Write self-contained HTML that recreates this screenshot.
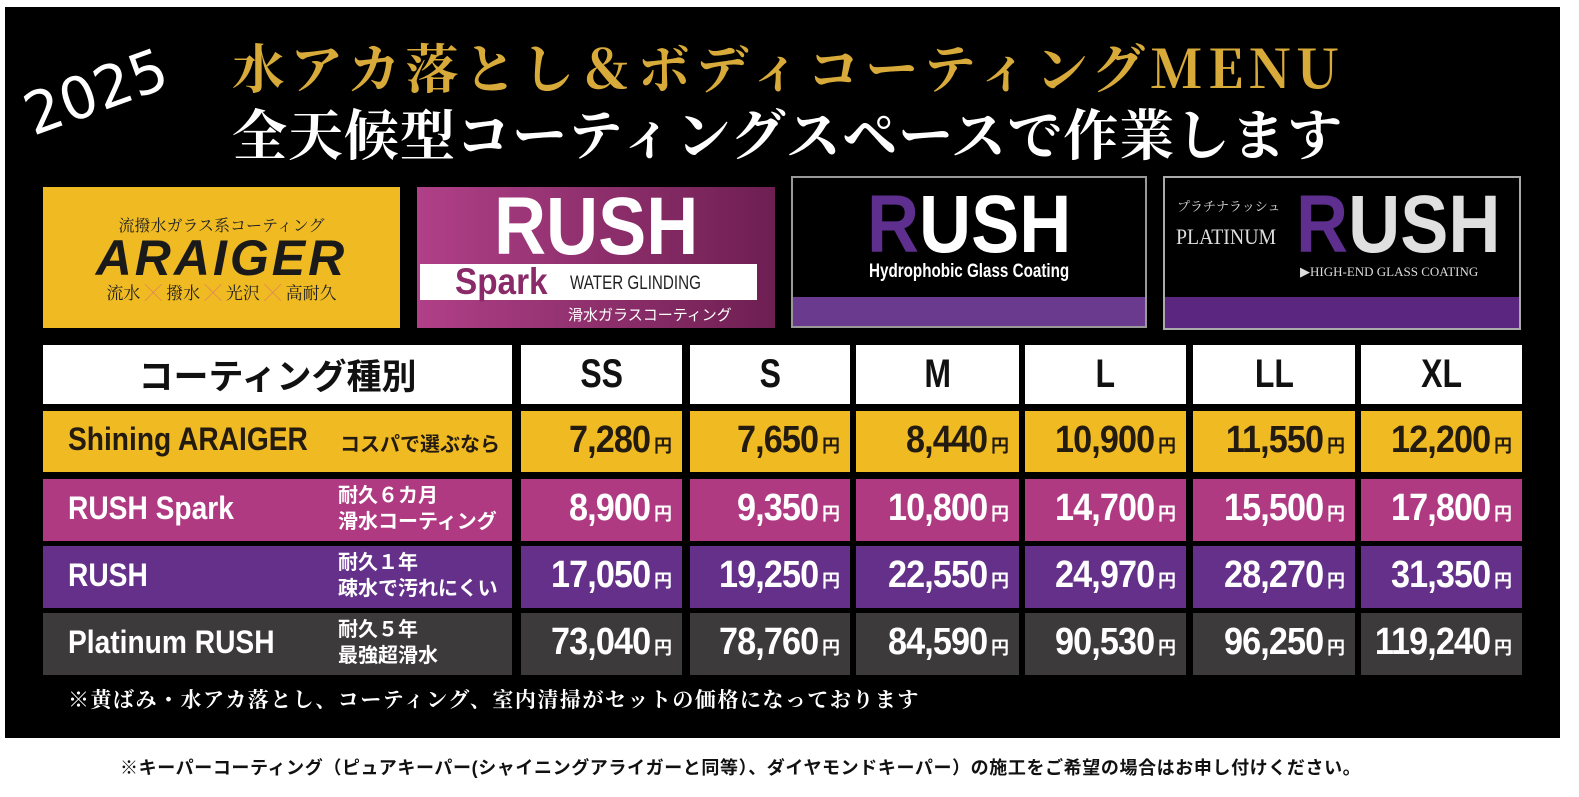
<!DOCTYPE html>
<html style="overflow:hidden"><head><meta charset="utf-8"><style>
*{margin:0;padding:0;box-sizing:border-box}
html,body{overflow:hidden}
body{width:1579px;height:797px;background:#fff;position:relative;font-family:"Liberation Sans","Noto Sans CJK JP",sans-serif}
.bk{position:absolute;left:5px;top:7px;width:1555px;height:731px;background:#000}
.a{position:absolute}
.c{position:absolute;display:flex;align-items:center;justify-content:center}
.cond{display:inline-block;transform:scaleX(.8);font-weight:bold}
.yen{font-size:18px;font-weight:bold;margin-left:4px}
.pr{position:absolute;display:flex;align-items:baseline;justify-content:flex-end;padding-right:10px}
.pr b{font-size:38px;letter-spacing:-1px;display:inline-block;transform:scaleX(.9);transform-origin:right}
</style></head><body>
<div class="bk"></div>
<div class="a" style="left:22px;top:58px;color:#fff;font-size:58px;transform:rotate(-20deg);font-family:'DejaVu Sans',sans-serif">2025</div>
<div class="a" style="left:232px;top:28px;font-family:'Noto Serif CJK SC','Liberation Serif',serif;font-size:53px;font-weight:bold;color:#d8aa3a;white-space:nowrap;letter-spacing:5px">水アカ落とし＆ボディコーティングMENU</div>
<div class="a" style="left:232px;top:92px;font-family:'Noto Serif CJK SC','Liberation Serif',serif;font-size:55px;font-weight:bold;color:#fff;white-space:nowrap;letter-spacing:1px">全天候型コーティングスペースで作業します</div>

<div class="a" style="left:43px;top:187px;width:357px;height:141px;background:#f0bb22"></div>
<div class="a" style="left:43px;top:213px;width:357px;text-align:center;font-family:'Noto Serif CJK SC',serif;font-size:16px;color:#222">流撥水ガラス系コーティング</div>
<div class="a" style="left:43px;top:229px;width:357px;text-align:center;font-size:50px;font-weight:bold;font-style:italic;color:#1a1a1a;letter-spacing:3px">ARAIGER</div>
<div class="a" style="left:43px;top:279px;width:357px;text-align:center;font-family:'Noto Serif CJK SC',serif;font-size:17px;color:#222">流水 <span style="color:#e08060">╳</span> 撥水 <span style="color:#e08060">╳</span> 光沢 <span style="color:#e08060">╳</span> 高耐久</div>

<div class="a" style="left:417px;top:187px;width:358px;height:141px;background:linear-gradient(90deg,#b04088,#6e1f52)"></div>
<div class="a" style="left:417px;top:180px;width:358px;text-align:center;color:#fff;font-size:82px"><span class="cond" style="transform:scaleX(.88)">RUSH</span></div>
<div class="a" style="left:420px;top:264px;width:337px;height:36px;background:#fff"></div>
<div class="a" style="left:455px;top:261px;color:#8a2a68;font-size:37px"><span class="cond" style="transform-origin:left;transform:scaleX(.9)">Spark</span></div>
<div class="a" style="left:570px;top:273px;color:#222;font-size:19px"><span class="cond" style="font-weight:normal;transform-origin:left">WATER GLINDING</span></div>
<div class="a" style="left:568px;top:304px;color:#fff;font-size:15px">滑水ガラスコーティング</div>

<div class="a" style="left:791px;top:176px;width:356px;height:152px;background:#000;border:2px solid #999"></div>
<div class="a" style="left:793px;top:297px;width:352px;height:29px;background:#6a3a8e"></div>
<div class="a" style="left:793px;top:178px;width:352px;text-align:center;font-size:82px;color:#fff"><span class="cond" style="transform:scaleX(.88)"><span style="color:#5e2f8e">R</span>USH</span></div>
<div class="a" style="left:793px;top:261px;width:352px;text-align:center;font-size:19px;color:#fff"><span class="cond">Hydrophobic Glass Coating</span></div>

<div class="a" style="left:1163px;top:176px;width:358px;height:154px;background:#000;border:2px solid #aaa"></div>
<div class="a" style="left:1165px;top:297px;width:354px;height:31px;background:#5a2680"></div>
<div class="a" style="left:1177px;top:196px;font-family:'Noto Serif CJK SC',serif;font-size:13px;color:#ddd">プラチナラッシュ</div>
<div class="a" style="left:1176px;top:224px;font-family:'Liberation Serif',serif;font-size:22px;color:#ddd;transform:scaleX(.9);transform-origin:left">PLATINUM</div>
<div class="a" style="left:1296px;top:178px;font-size:82px;color:#ddd"><span class="cond" style="transform:scaleX(.88);transform-origin:left"><span style="color:#5e2f8e">R</span><span style="color:#e0e0e0">USH</span></span></div>
<div class="a" style="left:1300px;top:264px;font-family:'Liberation Serif',serif;font-size:13px;color:#ddd">▶HIGH-END GLASS COATING</div>

<div class="c" style="left:43px;top:345px;width:469px;height:59px;background:#fff;font-size:35px;font-weight:bold;color:#111">コーティング種別</div>
<div class="c" style="left:521px;top:345px;width:161px;height:59px;background:#fff;font-size:40px;color:#111"><span class="cond">SS</span></div>
<div class="c" style="left:690px;top:345px;width:160px;height:59px;background:#fff;font-size:40px;color:#111"><span class="cond">S</span></div>
<div class="c" style="left:856px;top:345px;width:163px;height:59px;background:#fff;font-size:40px;color:#111"><span class="cond">M</span></div>
<div class="c" style="left:1025px;top:345px;width:161px;height:59px;background:#fff;font-size:40px;color:#111"><span class="cond">L</span></div>
<div class="c" style="left:1193px;top:345px;width:162px;height:59px;background:#fff;font-size:40px;color:#111"><span class="cond">LL</span></div>
<div class="c" style="left:1361px;top:345px;width:161px;height:59px;background:#fff;font-size:40px;color:#111"><span class="cond">XL</span></div>

<div id="rows"></div>
<div class="a" style="left:43px;top:411px;width:469px;height:61px;background:#f0bb22"></div>
<div class="a" style="left:68px;top:421px;font-size:32px;color:#231a10"><span class="cond" style="transform-origin:left;transform:scaleX(.88)">Shining ARAIGER</span></div>
<div class="a" style="left:340px;top:428px;font-size:20px;font-weight:bold;color:#231a10">コスパで選ぶなら</div>

<div class="a" style="left:43px;top:479px;width:469px;height:62px;background:#b03a82"></div>
<div class="a" style="left:68px;top:490px;font-size:32px;color:#fff"><span class="cond" style="transform-origin:left;transform:scaleX(.88)">RUSH Spark</span></div>
<div class="a" style="left:338px;top:483px;font-size:20px;font-weight:bold;color:#fff;line-height:26px">耐久６カ月<br>滑水コーティング</div>

<div class="a" style="left:43px;top:546px;width:469px;height:62px;background:#64308a"></div>
<div class="a" style="left:68px;top:557px;font-size:32px;color:#fff"><span class="cond" style="transform-origin:left;transform:scaleX(.88)">RUSH</span></div>
<div class="a" style="left:338px;top:550px;font-size:20px;font-weight:bold;color:#fff;line-height:26px">耐久１年<br>疎水で汚れにくい</div>

<div class="a" style="left:43px;top:613px;width:469px;height:62px;background:#3c3a3a"></div>
<div class="a" style="left:68px;top:624px;font-size:32px;color:#fff"><span class="cond" style="transform-origin:left;transform:scaleX(.88)">Platinum RUSH</span></div>
<div class="a" style="left:338px;top:617px;font-size:20px;font-weight:bold;color:#fff;line-height:26px">耐久５年<br>最強超滑水</div>

<script>
var xs=[[521,161],[690,160],[856,163],[1025,161],[1193,162],[1361,161]];
var rows=[[411,61,'#f0bb22','#231a10',['7,280','7,650','8,440','10,900','11,550','12,200']],
[479,62,'#b03a82','#fff',['8,900','9,350','10,800','14,700','15,500','17,800']],
[546,62,'#64308a','#fff',['17,050','19,250','22,550','24,970','28,270','31,350']],
[613,62,'#3c3a3a','#fff',['73,040','78,760','84,590','90,530','96,250','119,240']]];
var h='';
rows.forEach(function(r){xs.forEach(function(x,i){
h+='<div class="pr" style="left:'+x[0]+'px;top:'+r[0]+'px;width:'+x[1]+'px;height:'+r[1]+'px;background:'+r[2]+';color:'+r[3]+';padding-top:8px"><b>'+r[4][i]+'</b><span class="yen">円</span></div>';});});
document.getElementById('rows').outerHTML=h;
</script>

<div class="a" style="left:68px;top:684px;font-family:'Noto Serif CJK SC',serif;font-size:21px;font-weight:bold;color:#fff;white-space:nowrap;letter-spacing:1.5px">※黄ばみ・水アカ落とし、コーティング、室内清掃がセットの価格になっております</div>
<div class="a" style="left:120px;top:754px;font-size:18px;font-weight:bold;color:#111;white-space:nowrap;letter-spacing:.6px">※キーパーコーティング（ピュアキーパー(シャイニングアライガーと同等）、ダイヤモンドキーパー）の施工をご希望の場合はお申し付けください。</div>
</body></html>
